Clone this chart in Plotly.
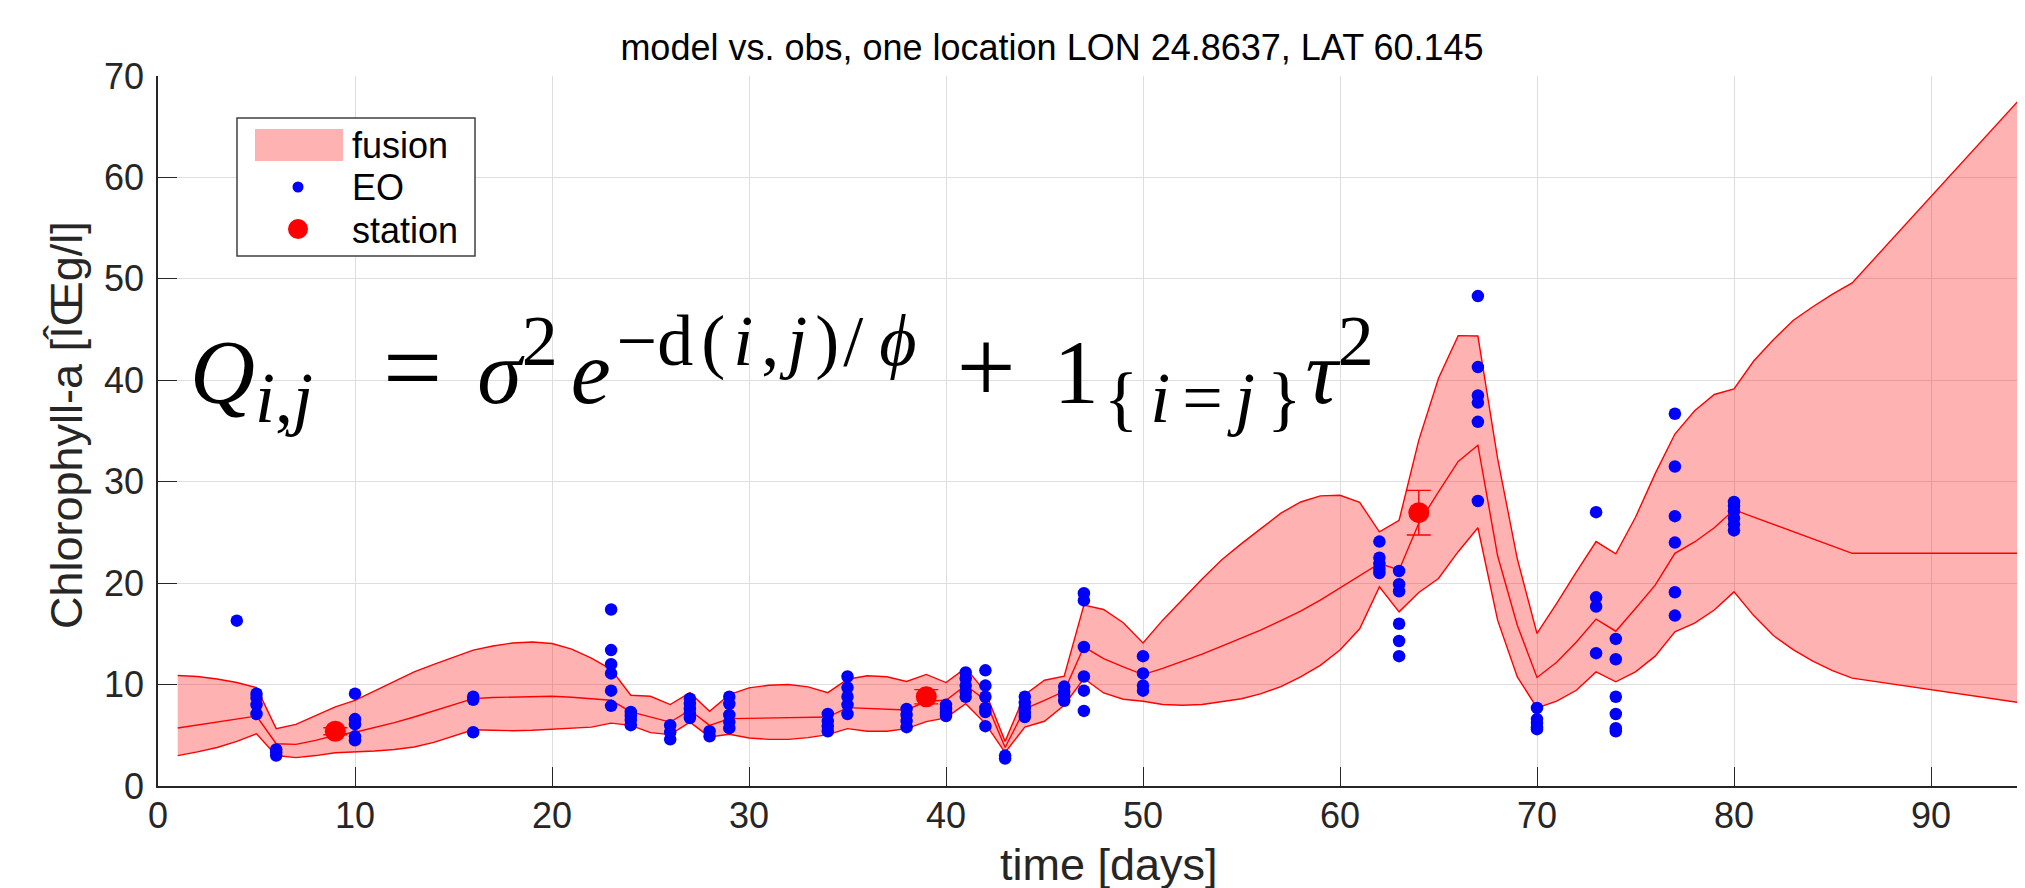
import math
import plotly.graph_objects as go

# ---------------- data ----------------
days = list(range(1, 87)) + [96]

fusion_upper = [10.9, 10.8, 10.55, 10.2, 9.7, 5.66, 6.08, 6.97, 7.8, 8.45,
                9.37, 10.3, 11.25, 12.0, 12.7, 13.4, 13.8, 14.1, 14.2, 14.05,
                13.5, 12.6, 11.5, 8.95, 8.85, 8.03, 9.2, 7.37, 9.0, 9.67,
                9.93, 10.0, 9.77, 9.2, 10.53, 10.87, 10.77, 10.3, 11.0, 10.2,
                11.65, 9.28, 4.4, 9.0, 10.43, 10.82, 17.83, 17.4, 16.1, 14.1,
                16.35, 18.4, 20.4, 22.3, 23.9, 25.4, 26.9, 28.0, 28.6, 28.66,
                27.96, 25.06, 26.2, 34.1, 40.2, 44.4, 44.36, 32.3, 22.4, 15.04,
                18.0, 21.1, 24.1, 22.9, 26.5, 30.8, 34.7, 37.0, 38.6, 39.15,
                41.9, 44.0, 45.9, 47.25, 48.5, 49.6, 70.9]

fusion_mean = [5.72, 6.0, 6.3, 6.6, 6.9, 4.17, 4.1, 4.5, 5.0, 5.3,
               5.75, 6.25, 6.8, 7.4, 8.0, 8.62, 8.72, 8.78, 8.82, 8.85,
               8.75, 8.6, 8.45, 7.3, 6.81, 6.3, 7.47, 5.98, 6.64, 6.67,
               6.7, 6.73, 6.77, 6.8, 7.73, 7.65, 7.58, 7.5, 8.35, 8.45,
               9.93, 8.45, 3.8, 7.6, 8.45, 9.34, 13.72, 12.56, 11.74, 10.98,
               11.6, 12.3, 13.0, 13.8, 14.6, 15.4, 16.3, 17.24, 18.32, 19.5,
               20.7, 21.94, 21.3, 25.9, 29.0, 32.0, 33.6, 22.7, 15.85, 10.7,
               12.2, 14.2, 16.45, 15.26, 17.5, 19.8, 22.94, 24.06, 25.46, 27.24,
               26.5, 25.8, 25.1, 24.4, 23.65, 22.94, 22.94]

fusion_lower = [3.0, 3.36, 3.8, 4.4, 5.15, 3.0, 2.8, 3.0, 3.28, 3.35,
                3.45, 3.6, 3.85, 4.3, 4.9, 5.55, 5.5, 5.45, 5.5, 5.6,
                5.66, 5.8, 6.2, 5.98, 5.26, 5.07, 6.3, 4.84, 5.1, 4.73,
                4.6, 4.6, 4.77, 5.07, 5.66, 5.4, 5.4, 5.66, 6.35, 6.72,
                8.12, 6.15, 3.3, 5.8, 6.38, 7.96, 10.6, 9.17, 8.55, 8.36,
                8.03, 7.96, 8.03, 8.3, 8.6, 9.1, 9.8, 10.76, 11.9, 13.4,
                15.5, 19.63, 17.17, 19.08, 20.46, 23.1, 25.46, 16.35, 10.76, 7.7,
                8.36, 9.44, 11.25, 10.27, 11.25, 12.8, 15.2, 16.06, 17.35, 19.14,
                16.8, 14.83, 13.44, 12.32, 11.37, 10.64, 7.8]

eo_groups = [
    (4, [16.3]),
    (5, [9.1, 8.7, 8.0, 7.1]),
    (6, [3.6, 3.3, 3.0]),
    (10, [9.1, 6.6, 6.1, 4.9, 4.5]),
    (16, [8.8, 8.5, 5.3]),
    (23, [17.4, 13.4, 12.0, 11.1, 9.4, 7.9]),
    (24, [7.3, 6.9, 6.5, 6.0]),
    (26, [6.0, 5.3, 4.6]),
    (27, [8.6, 8.1, 7.6, 7.1, 6.7]),
    (28, [5.4, 4.9]),
    (29, [8.8, 8.1, 7.0, 6.3, 5.7]),
    (34, [7.1, 6.4, 5.9, 5.4]),
    (35, [10.8, 9.7, 8.8, 8.0, 7.1]),
    (38, [7.6, 7.0, 6.4, 5.8]),
    (40, [8.0, 7.6, 7.2, 6.9]),
    (41, [11.2, 10.6, 9.9, 9.3, 8.8]),
    (42, [11.4, 9.9, 8.8, 7.7, 7.3, 5.9]),
    (43, [3.0, 2.7]),
    (44, [8.8, 8.2, 7.7, 7.2, 6.8]),
    (46, [9.8, 9.3, 8.9, 8.4]),
    (47, [19.0, 18.3, 13.7, 10.8, 9.4, 7.4]),
    (50, [12.8, 11.1, 9.9, 9.4]),
    (62, [24.1, 22.5, 21.9, 21.4, 21.0]),
    (63, [21.2, 19.9, 19.2, 16.0, 14.3, 12.8]),
    (67, [48.3, 41.3, 38.5, 37.8, 35.9, 28.1]),
    (70, [7.7, 6.6, 6.2, 5.8, 5.6]),
    (73, [27.0, 18.6, 17.7, 13.1]),
    (74, [14.5, 12.5, 8.8, 7.1, 5.7, 5.4]),
    (77, [36.7, 31.5, 26.6, 24.0, 19.1, 16.8]),
    (80, [28.0, 27.6, 27.1, 26.4, 25.8, 25.2]),
]
eo_day = [d for d, vals in eo_groups for _ in vals]
eo_val = [v for _, vals in eo_groups for v in vals]

station_day = [9, 39, 64]
station_val = [5.4, 8.8, 26.95]
station_err = [0.35, 0.7, 2.2]

x_ticks = [0, 10, 20, 30, 40, 50, 60, 70, 80, 90]
y_ticks = [0, 10, 20, 30, 40, 50, 60, 70]

title_text = "model vs. obs, one location LON 24.8637, LAT 60.145"
x_label = "time [days]"
y_label = "Chlorophyll-a [ÎŒg/l]"
legend_labels = ["fusion", "EO", "station"]

# ---------------- layout constants ----------------
W, H = 2025, 888
L, T, B = 150, 68, 110
PW, PH = W - L, H - T - B
PX_PER_DAY = 19.7
AX = "rgb(38,38,38)"
SANS = "Liberation Sans, Arial, Helvetica, sans-serif"
SERIF = "Liberation Serif, DejaVu Serif, Times New Roman, serif"
FILL = "rgba(255,0,0,0.3)"


def px(x):
    return (x - L) / PW


def py(y):
    return (H - B - y) / PH


fig = go.Figure()

# fusion band
fig.add_trace(go.Scatter(
    x=days + days[::-1], y=fusion_upper + fusion_lower[::-1],
    fill="toself", fillcolor=FILL, mode="lines",
    line=dict(width=0, color="rgba(0,0,0,0)"), hoverinfo="skip",
    name=legend_labels[0], showlegend=False))
for series in (fusion_upper, fusion_lower, fusion_mean):
    fig.add_trace(go.Scatter(x=days, y=series, mode="lines",
                             line=dict(color="red", width=1.4),
                             showlegend=False, hoverinfo="skip"))

# EO
fig.add_trace(go.Scatter(x=eo_day, y=eo_val, mode="markers", name=legend_labels[1],
                         marker=dict(color="rgb(0,0,255)", size=12.5, line=dict(width=0)),
                         showlegend=False))
# station
fig.add_trace(go.Scatter(x=station_day, y=station_val, mode="markers", name=legend_labels[2],
                         marker=dict(color="red", size=21, line=dict(width=0)),
                         error_y=dict(type="data", array=station_err, color="red",
                                      thickness=1.4, width=12),
                         showlegend=False))

# ---------------- hand-drawn legend box ----------------
LX, LY = 229, 110
shapes = [
    dict(type="rect", xref="paper", yref="paper",
         x0=px(LX), x1=px(LX + 238), y0=py(LY + 138), y1=py(LY),
         line=dict(color="rgb(64,64,64)", width=1.5), fillcolor="white", layer="above"),
    dict(type="rect", xref="paper", yref="paper",
         x0=px(LX + 18), x1=px(LX + 106), y0=py(LY + 43), y1=py(LY + 11),
         line=dict(width=0), fillcolor=FILL, layer="above"),
    dict(type="circle", xref="paper", yref="paper",
         x0=px(LX + 61 - 5.5), x1=px(LX + 61 + 5.5), y0=py(LY + 69 + 5.5), y1=py(LY + 69 - 5.5),
         line=dict(width=0), fillcolor="rgb(0,0,255)", layer="above"),
    dict(type="circle", xref="paper", yref="paper",
         x0=px(LX + 61 - 10), x1=px(LX + 61 + 10), y0=py(LY + 111 + 10), y1=py(LY + 111 - 10),
         line=dict(width=0), fillcolor="red", layer="above"),
]
annotations = []
for lab, dy in zip(legend_labels, [27, 69, 112]):
    annotations.append(dict(text=lab, xref="paper", yref="paper", x=px(LX + 113), y=py(LY + dy),
                            xanchor="left", yanchor="middle", showarrow=False,
                            font=dict(family=SANS, size=36, color="black")))


# equation (rich text; spacing tuned with sized no-break spaces, each <= 80px font)
def sp(w):
    if w <= 0:
        return ""
    n = max(1, math.ceil(w / 20))
    return ("<span style='font-size:%dpx'>\u00a0</span>" % round(4 * w / n)) * n


def big(s, size=105):
    return "<span style='font-size:%dpx'>%s</span>" % (size, s)


S = "<span style='font-size:72px'>"
expo = ("−" + "d" + sp(8) + "(" + sp(8) + "<i>i</i>" + sp(8) + "," + sp(8) + "<i>j</i>" + sp(8) +
        ")" + sp(4) + "/" + sp(16) + "<i>ϕ</i>")
eq = ("<i>Q</i><sub>" + S + "<i>i</i>,<i>j</i></span></sub>" + sp(70) + big("=") + sp(35) +
      "<i>σ</i><sup>" + S + "2</span></sup>" + sp(13) + "<i>e</i><sup>" + S + sp(6) + expo +
      "</span></sup>" + sp(40) +
      big("+") + sp(38) + "1<sub>" + S + sp(5) + "{" + sp(12) + "<i>i</i>" + sp(12) + "=" + sp(12) +
      "<i>j</i>" + sp(12) + "}</span></sub>" + sp(4) +
      "<i>τ</i><sup>" + S + "2</span></sup>")
annotations.append(dict(text=eq, xref="paper", yref="paper", x=px(180), y=py(361),
                        xanchor="left", yanchor="middle", showarrow=False,
                        font=dict(family=SERIF, size=90, color="black")))

# axis labels
annotations.append(dict(text=x_label, xref="paper", yref="paper", x=px(1101), y=py(856),
                        xanchor="center", yanchor="middle", showarrow=False,
                        font=dict(family=SANS, size=45, color=AX)))
annotations.append(dict(text=y_label, xref="paper", yref="paper", x=px(58), y=py(417),
                        xanchor="center", yanchor="middle", showarrow=False, textangle=-90,
                        font=dict(family=SANS, size=45, color=AX)))

fig.update_layout(
    width=W, height=H,
    margin=dict(l=L, r=0, t=T, b=B, autoexpand=False),
    paper_bgcolor="white", plot_bgcolor="white",
    title=dict(text=title_text, x=px(1044), xref="paper", xanchor="center",
               y=1 - 39 / H, yref="container", yanchor="middle",
               font=dict(family=SANS, size=36, color="black")),
    shapes=shapes, annotations=annotations, showlegend=False,
)
common = dict(showgrid=True, gridcolor="rgb(222,222,222)", gridwidth=1.3,
              showline=True, linecolor=AX, linewidth=1.5, mirror=False,
              ticks="inside", ticklen=19, tickwidth=1.4, tickcolor=AX,
              zeroline=False, tickfont=dict(family=SANS, size=36, color=AX),
              automargin=False)
fig.update_xaxes(range=[0, PW / PX_PER_DAY], tickvals=x_ticks, ticklabelstandoff=-3, **common)
fig.update_yaxes(range=[0, 70], tickvals=y_ticks, ticklabelstandoff=5, **common)

fig.write_html("out.html")
